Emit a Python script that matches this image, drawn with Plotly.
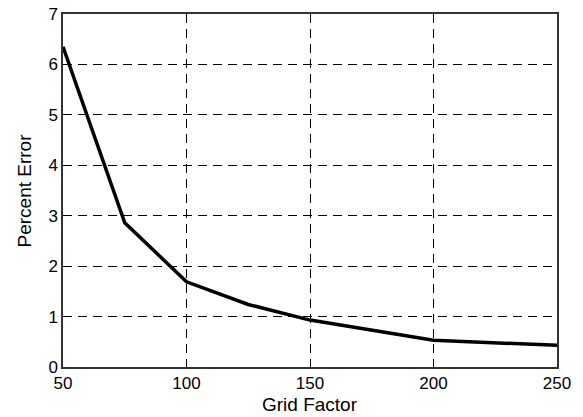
import plotly.graph_objects as go

grid_factor = [50, 75, 100, 125, 150, 200, 250]
percent_error = [6.35, 2.86, 1.69, 1.24, 0.93, 0.53, 0.43]

x_ticks = [50, 100, 150, 200, 250]
y_ticks = [0, 1, 2, 3, 4, 5, 6, 7]

FONT = "Liberation Sans, Arial, Helvetica"

fig = go.Figure()
fig.add_trace(go.Scatter(x=grid_factor, y=percent_error, mode="lines",
                         line=dict(color="black", width=3.5), showlegend=False))

axis_common = dict(
    showline=True, linecolor="#333333", linewidth=1.5, mirror=True,
    showgrid=True, gridcolor="black", gridwidth=1, griddash="9px,6px",
    zeroline=False, ticks="", automargin=False,
    tickfont=dict(family=FONT, size=17, color="black"),
)

fig.update_xaxes(range=[50, 250], tickvals=x_ticks, ticklabelstandoff=0, **axis_common)
fig.update_yaxes(range=[0, 7], tickvals=y_ticks, **axis_common)

fig.add_annotation(text="Grid Factor", xref="paper", yref="paper", x=0.5, y=-0.105,
                   xanchor="center", yanchor="middle", showarrow=False,
                   font=dict(family=FONT, size=19, color="black"))
fig.add_annotation(text="Percent Error", xref="paper", yref="paper", x=-0.077, y=0.5,
                   xanchor="center", yanchor="middle", textangle=-90, showarrow=False,
                   font=dict(family=FONT, size=19, color="black"))

fig.update_layout(width=583, height=417,
                  margin=dict(l=63, r=26, t=14, b=50),
                  paper_bgcolor="white", plot_bgcolor="white")

fig.write_html("out.html", config={"displayModeBar": False},
               post_script="document.body.style.margin='0';document.body.style.overflow='hidden';")
